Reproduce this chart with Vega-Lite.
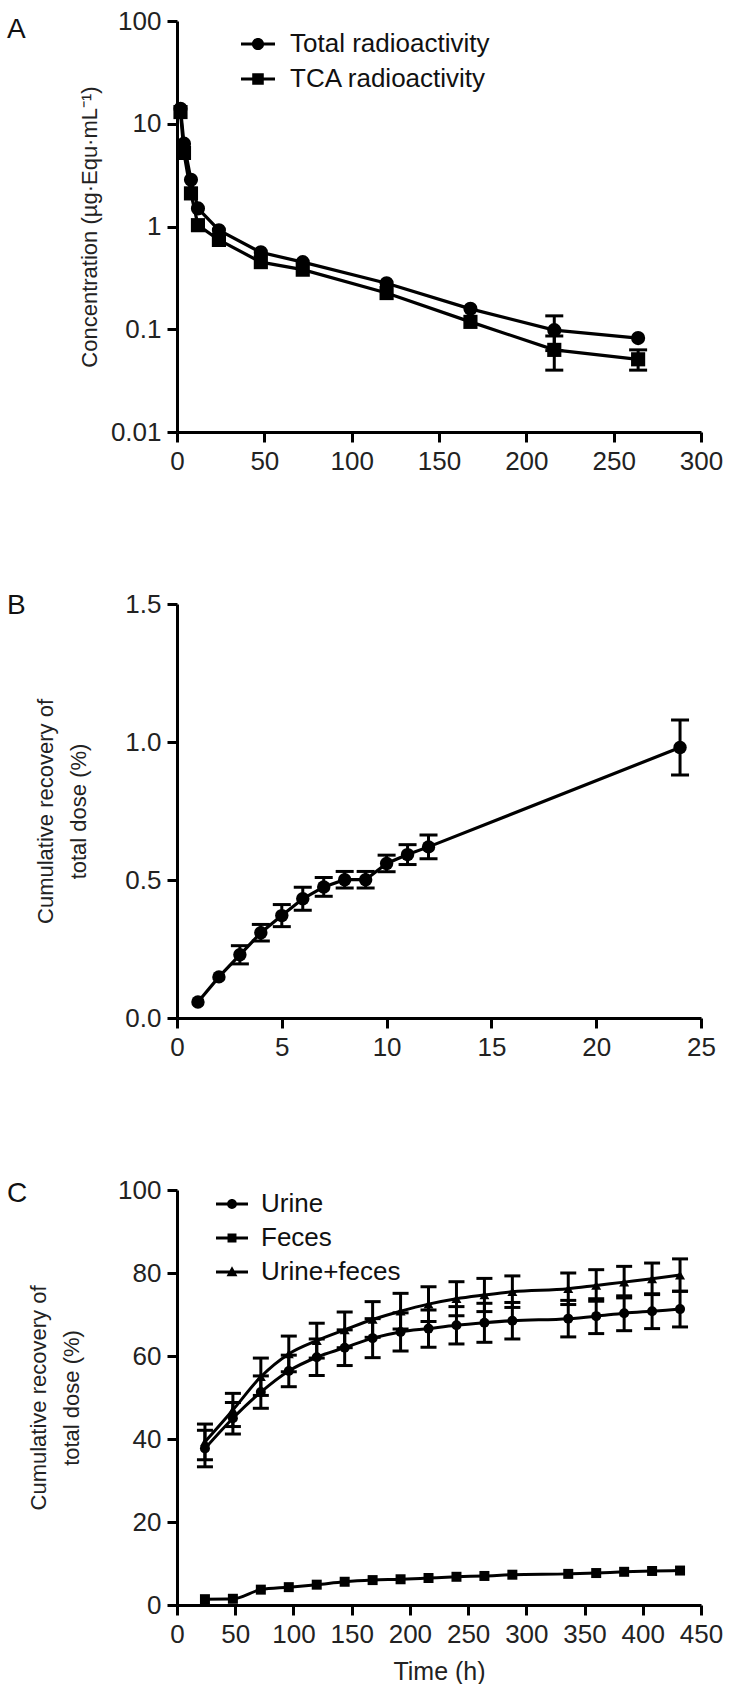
{
  "$schema": "https://vega.github.io/schema/vega-lite/v6.json",
  "padding": {"left": 7, "top": 8, "right": 20, "bottom": 0},
  "spacing": 117,
  "resolve": {"scale": {"shape": "independent"}, "legend": {"shape": "independent"}},
  "config": {
    "font": "Liberation Sans",
    "view": {"stroke": null},
    "axis": {"domainColor": "black", "domainWidth": 3, "tickColor": "black", "tickWidth": 3, "tickSize": 10, "labelFontSize": 26, "labelColor": "#222", "labelPadding": 6, "labelOverlap": false, "labelFlush": false, "grid": false, "titleFontSize": 22, "titleFontWeight": "normal", "titleColor": "#222", "labelFont": "Liberation Sans", "titleFont": "Liberation Sans"},
    "title": {"fontSize": 28, "fontWeight": "normal", "anchor": "start", "frame": "group", "color": "#111", "font": "Liberation Sans"},
    "legend": {"orient": "none", "title": null, "padding": 0, "labelFontSize": 26, "labelColor": "#111", "rowPadding": 5, "symbolStrokeWidth": 0, "symbolFillColor": "black", "symbolOpacity": 1, "labelFont": "Liberation Sans", "labelLimit": 400}
  },
  "datasets": {
    "plasma": [
      {"time": 2, "series": "Total radioactivity", "value": 14, "lo": null, "hi": null},
      {"time": 4, "series": "Total radioactivity", "value": 6.4, "lo": null, "hi": null},
      {"time": 8, "series": "Total radioactivity", "value": 2.85, "lo": null, "hi": null},
      {"time": 12, "series": "Total radioactivity", "value": 1.5, "lo": null, "hi": null},
      {"time": 24, "series": "Total radioactivity", "value": 0.92, "lo": null, "hi": null},
      {"time": 48, "series": "Total radioactivity", "value": 0.56, "lo": null, "hi": null},
      {"time": 72, "series": "Total radioactivity", "value": 0.45, "lo": null, "hi": null},
      {"time": 120, "series": "Total radioactivity", "value": 0.28, "lo": null, "hi": null},
      {"time": 168, "series": "Total radioactivity", "value": 0.158, "lo": null, "hi": null},
      {"time": 216, "series": "Total radioactivity", "value": 0.098, "lo": 0.062, "hi": 0.135},
      {"time": 264, "series": "Total radioactivity", "value": 0.082, "lo": null, "hi": null},
      {"time": 2, "series": "TCA radioactivity", "value": 13, "lo": null, "hi": null},
      {"time": 4, "series": "TCA radioactivity", "value": 5.2, "lo": null, "hi": null},
      {"time": 8, "series": "TCA radioactivity", "value": 2.1, "lo": null, "hi": null},
      {"time": 12, "series": "TCA radioactivity", "value": 1.03, "lo": null, "hi": null},
      {"time": 24, "series": "TCA radioactivity", "value": 0.74, "lo": null, "hi": null},
      {"time": 48, "series": "TCA radioactivity", "value": 0.45, "lo": null, "hi": null},
      {"time": 72, "series": "TCA radioactivity", "value": 0.38, "lo": null, "hi": null},
      {"time": 120, "series": "TCA radioactivity", "value": 0.225, "lo": null, "hi": null},
      {"time": 168, "series": "TCA radioactivity", "value": 0.118, "lo": null, "hi": null},
      {"time": 216, "series": "TCA radioactivity", "value": 0.063, "lo": 0.04, "hi": 0.086},
      {"time": 264, "series": "TCA radioactivity", "value": 0.051, "lo": 0.04, "hi": 0.063}
    ],
    "early": [
      {"time": 1, "value": 0.058, "lo": null, "hi": null},
      {"time": 2, "value": 0.149, "lo": null, "hi": null},
      {"time": 3, "value": 0.229, "lo": 0.196, "hi": 0.262},
      {"time": 4, "value": 0.309, "lo": 0.279, "hi": 0.339},
      {"time": 5, "value": 0.371, "lo": 0.331, "hi": 0.411},
      {"time": 6, "value": 0.432, "lo": 0.39, "hi": 0.474},
      {"time": 7, "value": 0.475, "lo": 0.441, "hi": 0.509},
      {"time": 8, "value": 0.501, "lo": 0.471, "hi": 0.531},
      {"time": 9, "value": 0.501, "lo": 0.471, "hi": 0.531},
      {"time": 10, "value": 0.56, "lo": 0.53, "hi": 0.59},
      {"time": 11, "value": 0.592, "lo": 0.556, "hi": 0.628},
      {"time": 12, "value": 0.62, "lo": 0.577, "hi": 0.663},
      {"time": 24, "value": 0.98, "lo": 0.88, "hi": 1.08}
    ],
    "excretion": [
      {"time": 24, "series": "Urine", "value": 37.7, "lo": 33.3, "hi": 42.1},
      {"time": 48, "series": "Urine", "value": 45, "lo": 41.2, "hi": 48.8},
      {"time": 72, "series": "Urine", "value": 51.3, "lo": 47.4, "hi": 55.2},
      {"time": 96, "series": "Urine", "value": 56.4, "lo": 52.6, "hi": 60.2},
      {"time": 120, "series": "Urine", "value": 59.7, "lo": 55.3, "hi": 64.1},
      {"time": 144, "series": "Urine", "value": 62, "lo": 57.7, "hi": 66.3},
      {"time": 168, "series": "Urine", "value": 64.3, "lo": 59.6, "hi": 69},
      {"time": 192, "series": "Urine", "value": 65.8, "lo": 61.2, "hi": 70.4},
      {"time": 216, "series": "Urine", "value": 66.6, "lo": 62.1, "hi": 71.1},
      {"time": 240, "series": "Urine", "value": 67.4, "lo": 62.9, "hi": 71.9},
      {"time": 264, "series": "Urine", "value": 68, "lo": 63.3, "hi": 72.7},
      {"time": 288, "series": "Urine", "value": 68.5, "lo": 64.1, "hi": 72.9},
      {"time": 336, "series": "Urine", "value": 69, "lo": 64.6, "hi": 73.4},
      {"time": 360, "series": "Urine", "value": 69.6, "lo": 65.4, "hi": 73.8},
      {"time": 384, "series": "Urine", "value": 70.3, "lo": 66.1, "hi": 74.5},
      {"time": 408, "series": "Urine", "value": 70.8, "lo": 66.6, "hi": 75},
      {"time": 432, "series": "Urine", "value": 71.3, "lo": 67, "hi": 75.6},
      {"time": 24, "series": "Feces", "value": 1.4, "lo": null, "hi": null},
      {"time": 48, "series": "Feces", "value": 1.5, "lo": null, "hi": null},
      {"time": 72, "series": "Feces", "value": 3.7, "lo": null, "hi": null},
      {"time": 96, "series": "Feces", "value": 4.3, "lo": null, "hi": null},
      {"time": 120, "series": "Feces", "value": 4.9, "lo": null, "hi": null},
      {"time": 144, "series": "Feces", "value": 5.6, "lo": null, "hi": null},
      {"time": 168, "series": "Feces", "value": 6.0, "lo": null, "hi": null},
      {"time": 192, "series": "Feces", "value": 6.2, "lo": null, "hi": null},
      {"time": 216, "series": "Feces", "value": 6.5, "lo": null, "hi": null},
      {"time": 240, "series": "Feces", "value": 6.8, "lo": null, "hi": null},
      {"time": 264, "series": "Feces", "value": 7.0, "lo": null, "hi": null},
      {"time": 288, "series": "Feces", "value": 7.3, "lo": null, "hi": null},
      {"time": 336, "series": "Feces", "value": 7.5, "lo": null, "hi": null},
      {"time": 360, "series": "Feces", "value": 7.7, "lo": null, "hi": null},
      {"time": 384, "series": "Feces", "value": 8.0, "lo": null, "hi": null},
      {"time": 408, "series": "Feces", "value": 8.2, "lo": null, "hi": null},
      {"time": 432, "series": "Feces", "value": 8.3, "lo": null, "hi": null},
      {"time": 24, "series": "Urine+feces", "value": 39.3, "lo": 35, "hi": 43.6},
      {"time": 48, "series": "Urine+feces", "value": 47, "lo": 43, "hi": 51},
      {"time": 72, "series": "Urine+feces", "value": 55, "lo": 50.5, "hi": 59.5},
      {"time": 96, "series": "Urine+feces", "value": 60.5, "lo": 56.2, "hi": 64.8},
      {"time": 120, "series": "Urine+feces", "value": 63.7, "lo": 59.5, "hi": 67.9},
      {"time": 144, "series": "Urine+feces", "value": 66.3, "lo": 62, "hi": 70.6},
      {"time": 168, "series": "Urine+feces", "value": 68.8, "lo": 64.5, "hi": 73.1},
      {"time": 192, "series": "Urine+feces", "value": 70.8, "lo": 66.5, "hi": 75.1},
      {"time": 216, "series": "Urine+feces", "value": 72.5, "lo": 68.3, "hi": 76.7},
      {"time": 240, "series": "Urine+feces", "value": 73.8, "lo": 69.7, "hi": 77.9},
      {"time": 264, "series": "Urine+feces", "value": 74.7, "lo": 70.7, "hi": 78.7},
      {"time": 288, "series": "Urine+feces", "value": 75.5, "lo": 71.7, "hi": 79.3},
      {"time": 336, "series": "Urine+feces", "value": 76.2, "lo": 72.4, "hi": 80},
      {"time": 360, "series": "Urine+feces", "value": 77, "lo": 73.2, "hi": 80.8},
      {"time": 384, "series": "Urine+feces", "value": 77.8, "lo": 74, "hi": 81.6},
      {"time": 408, "series": "Urine+feces", "value": 78.6, "lo": 74.8, "hi": 82.4},
      {"time": 432, "series": "Urine+feces", "value": 79.5, "lo": 75.6, "hi": 83.4}
    ]
  },
  "vconcat": [
    {
      "width": 524,
      "height": 411,
      "title": {"text": "A", "dx": -170, "offset": -36},
      "data": {"name": "plasma"},
      "resolve": {"scale": {"shape": "independent"}},
      "encoding": {
        "x": {"field": "time", "type": "quantitative", "title": null, "scale": {"domain": [0, 300], "nice": false}, "axis": {"values": [0, 50, 100, 150, 200, 250, 300]}}
      },
      "layer": [
        {
          "mark": {"type": "line", "color": "black", "strokeWidth": 3.2},
          "encoding": {
            "y": {"field": "value", "type": "quantitative", "title": "Concentration (µg·Equ·mL⁻¹)", "scale": {"type": "log", "domain": [0.01, 100], "nice": false}, "axis": {"values": [0.01, 0.1, 1, 10, 100], "format": "~g", "titlePadding": 9}},
            "detail": {"field": "series"}
          }
        },
        {
          "mark": {"type": "errorbar", "color": "black", "opacity": 1, "thickness": 3, "rule": {"color": "black", "strokeWidth": 3, "opacity": 1}, "ticks": {"size": 18, "thickness": 3, "color": "black", "opacity": 1}},
          "encoding": {
            "y": {"field": "lo", "type": "quantitative", "title": "Concentration (µg·Equ·mL⁻¹)"},
            "y2": {"field": "hi"},
            "detail": {"field": "series"}
          }
        },
        {
          "mark": {"type": "point", "filled": true, "color": "black", "opacity": 1, "size": 200},
          "encoding": {
            "y": {"field": "value", "type": "quantitative", "title": "Concentration (µg·Equ·mL⁻¹)"},
            "shape": {"field": "series", "type": "nominal", "scale": {"domain": ["Total radioactivity", "TCA radioactivity"], "range": ["circle", "square"]}, "legend": null}
          }
        },
        {
          "transform": [{"filter": "false"}],
          "mark": {"type": "point", "filled": true, "color": "black", "opacity": 1},
          "encoding": {
            "y": {"field": "value", "type": "quantitative", "title": "Concentration (µg·Equ·mL⁻¹)"},
            "shape": {
              "field": "series", "type": "nominal",
              "scale": {"domain": ["Total radioactivity", "TCA radioactivity"], "range": [
                "M-1,-0.094H1V0.094H-1Z M-0.36,0C-0.36,-0.2,-0.2,-0.36,0,-0.36C0.2,-0.36,0.36,-0.2,0.36,0C0.36,0.2,0.2,0.36,0,0.36C-0.2,0.36,-0.36,0.2,-0.36,0Z",
                "M-1,-0.094H1V0.094H-1Z M-0.34,-0.34H0.34V0.34H-0.34Z"
              ]},
              "legend": {"legendX": 64, "legendY": 6, "symbolSize": 1156, "labelOffset": 15}
            }
          }
        }
      ]
    },
    {
      "width": 524,
      "height": 414,
      "title": {"text": "B", "dx": -170, "offset": -29},
      "data": {"name": "early"},
      "encoding": {
        "x": {"field": "time", "type": "quantitative", "title": null, "scale": {"domain": [0, 25], "nice": false}, "axis": {"values": [0, 5, 10, 15, 20, 25]}}
      },
      "layer": [
        {
          "mark": {"type": "line", "color": "black", "strokeWidth": 3.2},
          "encoding": {
            "y": {"field": "value", "type": "quantitative", "title": ["Cumulative recovery of", "total dose (%)"], "scale": {"domain": [0, 1.5], "nice": false}, "axis": {"values": [0, 0.5, 1, 1.5], "format": ".1f", "titlePadding": 34, "titleLineHeight": 33}}
          }
        },
        {
          "mark": {"type": "errorbar", "color": "black", "opacity": 1, "thickness": 3, "rule": {"color": "black", "strokeWidth": 3, "opacity": 1}, "ticks": {"size": 18, "thickness": 3, "color": "black", "opacity": 1}},
          "encoding": {
            "y": {"field": "lo", "type": "quantitative", "title": ["Cumulative recovery of", "total dose (%)"]},
            "y2": {"field": "hi"}
          }
        },
        {
          "mark": {"type": "point", "filled": true, "color": "black", "opacity": 1, "size": 180, "shape": "circle"},
          "encoding": {
            "y": {"field": "value", "type": "quantitative", "title": ["Cumulative recovery of", "total dose (%)"]}
          }
        }
      ]
    },
    {
      "width": 524,
      "height": 415,
      "title": {"text": "C", "dx": -170, "offset": -31},
      "data": {"name": "excretion"},
      "resolve": {"scale": {"shape": "independent"}},
      "encoding": {
        "x": {"field": "time", "type": "quantitative", "title": "Time (h)", "scale": {"domain": [0, 450], "nice": false}, "axis": {"values": [0, 50, 100, 150, 200, 250, 300, 350, 400, 450], "titleFontSize": 25, "titlePadding": 12}}
      },
      "layer": [
        {
          "mark": {"type": "line", "color": "black", "strokeWidth": 3, "interpolate": "monotone"},
          "encoding": {
            "y": {"field": "value", "type": "quantitative", "title": ["Cumulative recovery of", "total dose (%)"], "scale": {"domain": [0, 100], "nice": false}, "axis": {"values": [0, 20, 40, 60, 80, 100], "titlePadding": 34, "titleLineHeight": 33}},
            "detail": {"field": "series"}
          }
        },
        {
          "mark": {"type": "errorbar", "color": "black", "opacity": 1, "thickness": 3, "rule": {"color": "black", "strokeWidth": 3, "opacity": 1}, "ticks": {"size": 16, "thickness": 3, "color": "black", "opacity": 1}},
          "encoding": {
            "y": {"field": "lo", "type": "quantitative", "title": ["Cumulative recovery of", "total dose (%)"]},
            "y2": {"field": "hi"},
            "detail": {"field": "series"}
          }
        },
        {
          "mark": {"type": "point", "filled": true, "color": "black", "opacity": 1, "size": 100},
          "encoding": {
            "y": {"field": "value", "type": "quantitative", "title": ["Cumulative recovery of", "total dose (%)"]},
            "shape": {"field": "series", "type": "nominal", "scale": {"domain": ["Urine", "Feces", "Urine+feces"], "range": ["circle", "square", "triangle-up"]}, "legend": null}
          }
        },
        {
          "transform": [{"filter": "false"}],
          "mark": {"type": "point", "filled": true, "color": "black", "opacity": 1},
          "encoding": {
            "y": {"field": "value", "type": "quantitative", "title": ["Cumulative recovery of", "total dose (%)"]},
            "shape": {
              "field": "series", "type": "nominal",
              "scale": {"domain": ["Urine", "Feces", "Urine+feces"], "range": [
                "M-1,-0.094H1V0.094H-1Z M-0.31,0C-0.31,-0.17,-0.17,-0.31,0,-0.31C0.17,-0.31,0.31,-0.17,0.31,0C0.31,0.17,0.17,0.31,0,0.31C-0.17,0.31,-0.31,0.17,-0.31,0Z",
                "M-1,-0.094H1V0.094H-1Z M-0.28,-0.28H0.28V0.28H-0.28Z",
                "M-1,-0.094H1V0.094H-1Z M0,-0.36L0.34,0.26H-0.34Z"
              ]},
              "legend": {"legendX": 39, "legendY": -2, "symbolSize": 1024, "labelOffset": 13}
            }
          }
        }
      ]
    }
  ]
}
